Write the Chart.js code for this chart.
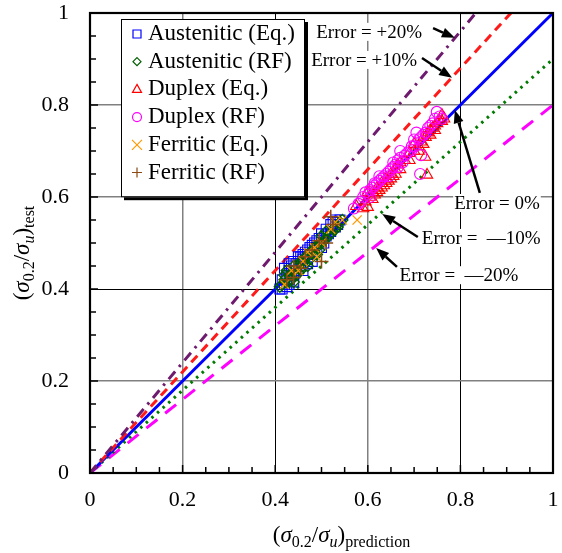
<!DOCTYPE html>
<html><head><meta charset="utf-8">
<script src="https://cdn.jsdelivr.net/npm/chart.js@4/dist/chart.umd.min.js"></script>
<style>html,body{margin:0;padding:0;background:#fff;}#wrap{width:562px;height:553px;}</style>
</head><body><div id="wrap"><canvas id="c" width="562" height="553"></canvas></div>
<script>
// ---------- data ----------
const axisTicks = [0, 0.2, 0.4, 0.6, 0.8, 1];
const seriesNames = ['Austenitic (Eq.)', 'Austenitic (RF)', 'Duplex (Eq.)', 'Duplex (RF)', 'Ferritic (Eq.)', 'Ferritic (RF)'];
const austeniticEq = [[0.41,0.40],[0.415,0.42],[0.42,0.41],[0.425,0.43],[0.43,0.44],[0.43,0.42],[0.435,0.45],[0.44,0.43],[0.44,0.46],[0.445,0.44],[0.45,0.455],[0.45,0.47],[0.455,0.45],[0.46,0.465],[0.465,0.48],[0.47,0.47],[0.475,0.49],[0.48,0.475],[0.485,0.50],[0.49,0.49],[0.495,0.51],[0.50,0.52],[0.505,0.50],[0.51,0.53],[0.515,0.52],[0.52,0.54],[0.525,0.545],[0.53,0.55],[0.535,0.54],[0.42,0.445],[0.43,0.455],[0.46,0.44],[0.50,0.49],[0.44,0.415],[0.48,0.46],[0.415,0.40],[0.425,0.405],[0.43,0.41],[0.435,0.43],[0.445,0.455],[0.455,0.47],[0.46,0.475],[0.47,0.485],[0.48,0.495],[0.49,0.505],[0.50,0.505],[0.51,0.515],[0.52,0.525],[0.53,0.535],[0.54,0.55],[0.47,0.455]];
const austeniticRF = [[0.41,0.405],[0.42,0.42],[0.425,0.415],[0.43,0.43],[0.435,0.42],[0.44,0.44],[0.445,0.43],[0.45,0.45],[0.455,0.44],[0.46,0.46],[0.465,0.455],[0.47,0.47],[0.475,0.465],[0.48,0.48],[0.485,0.475],[0.49,0.49],[0.495,0.485],[0.50,0.50],[0.51,0.51],[0.52,0.52],[0.53,0.53],[0.54,0.545],[0.545,0.55],[0.425,0.44],[0.44,0.415],[0.47,0.45],[0.50,0.515],[0.415,0.41],[0.43,0.415],[0.45,0.435],[0.455,0.46],[0.46,0.45],[0.465,0.47],[0.475,0.48],[0.485,0.49],[0.49,0.475],[0.495,0.50],[0.505,0.505],[0.515,0.515],[0.525,0.53],[0.535,0.535],[0.44,0.45],[0.42,0.43],[0.51,0.525]];
const duplexEq = [[0.60,0.578],[0.595,0.59],[0.605,0.60],[0.61,0.61],[0.615,0.605],[0.62,0.62],[0.625,0.615],[0.63,0.63],[0.635,0.625],[0.64,0.64],[0.645,0.635],[0.65,0.65],[0.655,0.645],[0.66,0.66],[0.665,0.67],[0.67,0.66],[0.68,0.68],[0.69,0.695],[0.70,0.70],[0.71,0.71],[0.715,0.72],[0.72,0.715],[0.725,0.73],[0.73,0.74],[0.735,0.735],[0.74,0.75],[0.745,0.745],[0.75,0.76],[0.76,0.778],[0.755,0.765],[0.724,0.687],[0.728,0.648],[0.575,0.58],[0.59,0.575],[0.60,0.61],[0.61,0.595],[0.62,0.61],[0.63,0.62],[0.64,0.63],[0.65,0.64],[0.66,0.65],[0.67,0.675],[0.69,0.68],[0.70,0.715],[0.71,0.70],[0.72,0.73],[0.735,0.745],[0.745,0.755],[0.76,0.765],[0.765,0.77]];
const duplexRF = [[0.58,0.585],[0.59,0.60],[0.60,0.605],[0.605,0.615],[0.61,0.62],[0.615,0.625],[0.62,0.63],[0.625,0.635],[0.63,0.64],[0.64,0.65],[0.645,0.655],[0.65,0.66],[0.655,0.665],[0.66,0.67],[0.665,0.68],[0.67,0.685],[0.68,0.69],[0.69,0.70],[0.70,0.71],[0.71,0.725],[0.72,0.735],[0.725,0.74],[0.73,0.75],[0.74,0.76],[0.749,0.785],[0.755,0.775],[0.715,0.691],[0.713,0.65],[0.67,0.70],[0.705,0.74],[0.57,0.575],[0.585,0.59],[0.595,0.61],[0.605,0.60],[0.615,0.63],[0.625,0.645],[0.635,0.645],[0.645,0.645],[0.655,0.675],[0.675,0.675],[0.685,0.695],[0.695,0.71],[0.70,0.725],[0.715,0.73],[0.735,0.755],[0.745,0.77],[0.76,0.77],[0.665,0.665]];
const ferriticEq = [[0.42,0.41],[0.435,0.44],[0.45,0.44],[0.46,0.46],[0.47,0.48],[0.485,0.49],[0.50,0.50],[0.52,0.53],[0.53,0.545],[0.577,0.55],[0.545,0.55],[0.49,0.47]];
const ferriticRF = [[0.425,0.42],[0.44,0.45],[0.455,0.445],[0.465,0.47],[0.48,0.485],[0.495,0.505],[0.51,0.50],[0.525,0.54],[0.52,0.557],[0.50,0.46],[0.44,0.425]];
const errorLevels = [0.2, 0.1, 0, -0.1, -0.2];
const errorLabels = ['Error = +20%', 'Error = +10%', 'Error = 0%', 'Error =  \u201410%', 'Error =  \u201420%'];
// annotation anchors in data units: text centre, arrow tail, arrow tip
const annText = [[0.603,0.959],[0.592,0.898],[0.879,0.587],[0.845,0.511],[0.797,0.430]];
const annTail = [[0.741,0.967],[0.717,0.902],[0.842,0.609],[0.708,0.513],[0.663,0.448]];
const annTip  = [[0.788,0.946],[0.782,0.859],[0.788,0.789],[0.631,0.563],[0.618,0.489]];

// ---------- styles ----------
const serif = '"Liberation Serif", "Times New Roman", serif';
const markerStyles = ['rect','rectRot','triangle','circle','crossRot','cross'];
const markerColors = ['#0000ff','#005f00','#ff0000','#ff00ff','#ff9900','#8b4a13'];
const markerRadius = [7,5.5,6.5,5.5,6.5,7];
const markerWidths = [1.1,1.4,1.1,1.1,1.3,1.5];
const lineColors = ['#6e1a6e','#ff1a1a','#0000ff','#007a00','#ff00ff'];
const lineDashes = [[10,6,2.5,6],[9,6],[],[2.5,5],[14,10]];
const lineWidths = [3,3,3,3,3];

const seriesData = [austeniticEq, austeniticRF, duplexEq, duplexRF, ferriticEq, ferriticRF];
const datasets = [];
seriesData.forEach((arr,i)=>{
  datasets.push({type:'scatter', label:seriesNames[i], data:arr.map(p=>({x:p[0],y:p[1]})),
    pointStyle:markerStyles[i], pointRadius:markerRadius[i], pointBorderColor:markerColors[i],
    pointBackgroundColor:'rgba(0,0,0,0)', pointBorderWidth:markerWidths[i], order:7-i, isSeries:true});
});
errorLevels.forEach((e,i)=>{
  datasets.push({type:'line', label:errorLabels[i], data:[{x:0,y:0},{x:1,y:1+e}],
    borderColor:lineColors[i], borderDash:lineDashes[i], borderWidth:lineWidths[i],
    pointRadius:0, fill:false, order:20, tension:0});
});

function drawMarker(ctx, style, x, y, r, color){
  ctx.save(); ctx.strokeStyle=color; ctx.lineWidth=1.2; ctx.beginPath();
  switch(style){
    case 'rect': ctx.rect(x-r,y-r,2*r,2*r); break;
    case 'rectRot': ctx.moveTo(x,y-r);ctx.lineTo(x+r,y);ctx.lineTo(x,y+r);ctx.lineTo(x-r,y);ctx.closePath(); break;
    case 'triangle': ctx.moveTo(x,y-r);ctx.lineTo(x+r*0.9,y+r*0.6);ctx.lineTo(x-r*0.9,y+r*0.6);ctx.closePath(); break;
    case 'circle': ctx.arc(x,y,r,0,Math.PI*2); break;
    case 'crossRot': ctx.moveTo(x-r,y-r);ctx.lineTo(x+r,y+r);ctx.moveTo(x+r,y-r);ctx.lineTo(x-r,y+r); break;
    case 'cross': ctx.moveTo(x-r,y);ctx.lineTo(x+r,y);ctx.moveTo(x,y-r);ctx.lineTo(x,y+r); break;
  }
  ctx.stroke(); ctx.restore();
}
function drawRich(ctx, parts, x, y){
  let w=0; parts.forEach(p=>{ctx.font=p.f; w+=ctx.measureText(p.t).width;});
  let cx=x-w/2;
  ctx.textBaseline='alphabetic'; ctx.textAlign='left'; ctx.fillStyle='#000';
  parts.forEach(p=>{ctx.font=p.f; ctx.fillText(p.t,cx,y+(p.dy||0)); cx+=ctx.measureText(p.t).width;});
}
function titleParts(sub){
  const M='23px '+serif, I='italic 23px '+serif, S='16px '+serif, SI='italic 16px '+serif;
  return [{t:'(',f:M},{t:'\u03C3',f:I},{t:'0.2',f:S,dy:5},{t:'/',f:M},{t:'\u03C3',f:I},{t:'u',f:SI,dy:5},{t:')',f:M},{t:sub,f:S,dy:5}];
}
function arrow(ctx,x1,y1,x2,y2){
  const a=Math.atan2(y2-y1,x2-x1), L=13, W=5;
  const bx=x2-L*Math.cos(a), by=y2-L*Math.sin(a);
  ctx.save(); ctx.strokeStyle='#000'; ctx.fillStyle='#000'; ctx.lineWidth=2.5;
  ctx.beginPath(); ctx.moveTo(x1,y1); ctx.lineTo(bx,by); ctx.stroke();
  ctx.beginPath(); ctx.moveTo(x2,y2);
  ctx.lineTo(bx+W*Math.sin(a), by-W*Math.cos(a));
  ctx.lineTo(bx-W*Math.sin(a), by+W*Math.cos(a)); ctx.closePath(); ctx.fill();
  ctx.restore();
}

const decor = {
  id:'decor',
  afterDraw(chart){
    const ctx=chart.ctx, a=chart.chartArea, xs=chart.scales.x, ys=chart.scales.y;
    ctx.save(); ctx.strokeStyle='#000'; ctx.lineWidth=1.5;
    for(let i=0;i<=20;i++){
      const v=i*0.05, len=(i%4===0)?8:6;
      const px=xs.getPixelForValue(v), py=ys.getPixelForValue(v);
      ctx.beginPath(); ctx.moveTo(px,a.bottom); ctx.lineTo(px,a.bottom-len); ctx.stroke();
      ctx.beginPath(); ctx.moveTo(a.left,py); ctx.lineTo(a.left+len,py); ctx.stroke();
    }
    ctx.lineWidth=2.2; ctx.strokeRect(a.left,a.top,a.right-a.left,a.bottom-a.top);
    ctx.restore();
    ctx.save();
    ctx.font='19px '+serif; ctx.textAlign='center'; ctx.textBaseline='middle';
    errorLabels.forEach((t,i)=>{
      const tx=xs.getPixelForValue(annText[i][0]), ty=ys.getPixelForValue(annText[i][1]);
      const w=ctx.measureText(t).width;
      ctx.fillStyle='#fff'; ctx.fillRect(tx-w/2-1,ty-9,w+2,18);
      ctx.fillStyle='#000'; ctx.fillText(t,tx,ty+1);
      arrow(ctx,xs.getPixelForValue(annTail[i][0]),ys.getPixelForValue(annTail[i][1]),
                xs.getPixelForValue(annTip[i][0]),ys.getPixelForValue(annTip[i][1]));
    });
    ctx.restore();
    const series=chart.data.datasets.filter(d=>d.isSeries);
    const lx=a.left+31, ly=a.top+6, lw=184, rowH=27.7, lh=12+series.length*rowH;
    ctx.save();
    ctx.fillStyle='#000'; ctx.fillRect(lx+3,ly+3,lw,lh);
    ctx.fillStyle='#fff'; ctx.fillRect(lx,ly,lw,lh);
    ctx.strokeStyle='#000'; ctx.lineWidth=1; ctx.strokeRect(lx+0.5,ly+0.5,lw-1,lh-1);
    ctx.font='23px '+serif; ctx.textAlign='left'; ctx.textBaseline='middle'; ctx.fillStyle='#000';
    const lr=[4,4,5,4.5,5,5];
    series.forEach((d,i)=>{
      const cy=ly+14+i*rowH;
      drawMarker(ctx,d.pointStyle,lx+16,cy+1,lr[i],d.pointBorderColor);
      ctx.fillStyle='#000'; ctx.fillText(d.label,lx+27,cy+1);
    });
    ctx.restore();
    ctx.save();
    drawRich(ctx,titleParts('prediction'),(a.left+a.right)/2+20,542);
    ctx.translate(29,(a.top+a.bottom)/2+10); ctx.rotate(-Math.PI/2);
    drawRich(ctx,titleParts('test'),0,0);
    ctx.restore();
  }
};

const tickFont={family:serif,size:22};
function gridColor(axis){
  return c=>{ const v=c.tick?c.tick.value:null;
    if(v===0.4 || (axis==='x' && v===0.8)) return '#000';
    return '#808080'; };
}
function noPad(s){ s.paddingTop=0; s.paddingBottom=0; s.paddingLeft=0; s.paddingRight=0; }
new Chart(document.getElementById('c'),{
  type:'scatter',
  data:{datasets},
  options:{
    responsive:false, animation:false, devicePixelRatio:1,
    layout:{padding:{top:13,right:9,left:0,bottom:0}},
    plugins:{legend:{display:false},tooltip:{enabled:false}},
    scales:{
      x:{type:'linear',min:0,max:1,
        afterBuildTicks:s=>{s.ticks=axisTicks.map(v=>({value:v}));},
        afterFit:s=>{s.height=80; noPad(s);},
        ticks:{font:tickFont,color:'#000',padding:14,maxRotation:0,callback:v=>String(v)},
        grid:{color:gridColor('x'),lineWidth:c=>(c.tick&&(c.tick.value===0.4||c.tick.value===0.8))?1:1.5,drawTicks:false},
        border:{display:true,color:'#000',width:2}},
      y:{type:'linear',min:0,max:1,
        afterBuildTicks:s=>{s.ticks=axisTicks.map(v=>({value:v}));},
        afterFit:s=>{s.width=90; noPad(s);},
        ticks:{font:tickFont,color:'#000',padding:21,callback:v=>String(v)},
        grid:{color:gridColor('y'),lineWidth:c=>(c.tick&&c.tick.value===0.4)?1:1.5,drawTicks:false},
        border:{display:true,color:'#000',width:2}}
    }
  },
  plugins:[decor]
});
</script></body></html>
